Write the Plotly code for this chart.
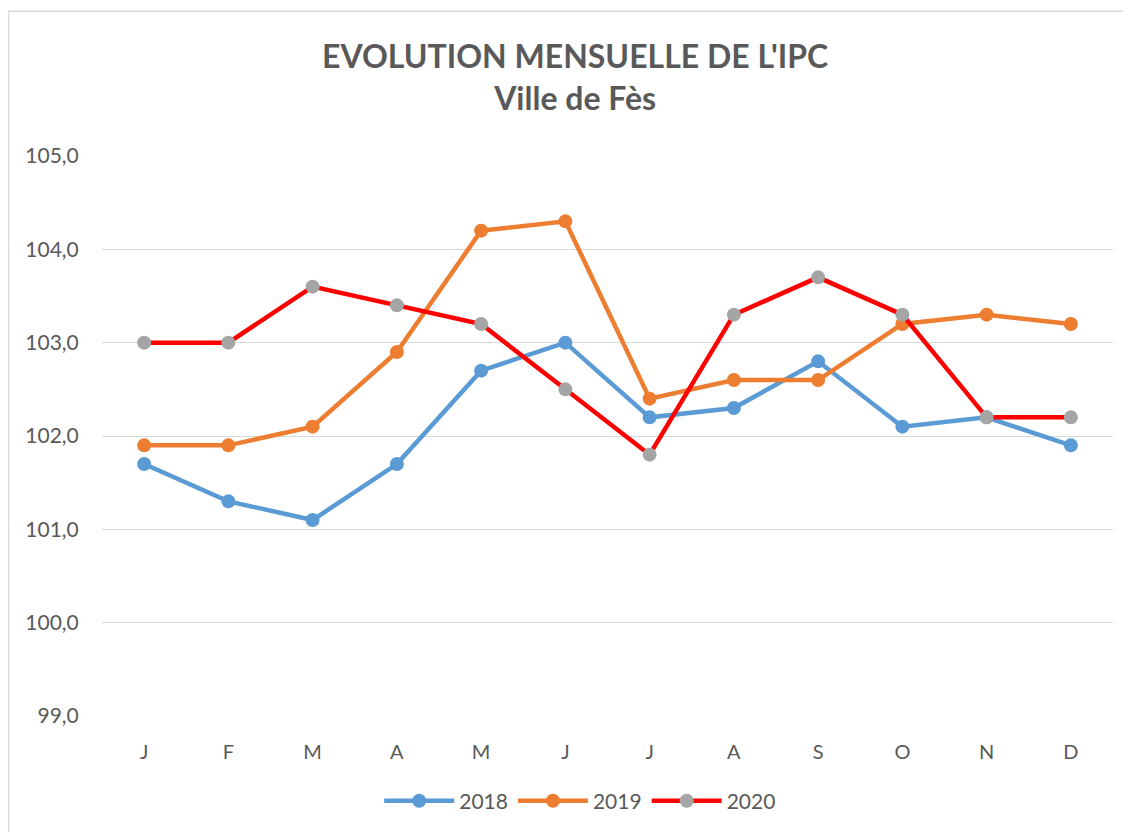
import plotly.graph_objects as go

months = ["J", "F", "M", "A", "M", "J", "J", "A", "S", "O", "N", "D"]
x_idx = list(range(12))
ipc_2018 = [101.7, 101.3, 101.1, 101.7, 102.7, 103.0, 102.2, 102.3, 102.8, 102.1, 102.2, 101.9]
ipc_2019 = [101.9, 101.9, 102.1, 102.9, 104.2, 104.3, 102.4, 102.6, 102.6, 103.2, 103.3, 103.2]
ipc_2020 = [103.0, 103.0, 103.6, 103.4, 103.2, 102.5, 101.8, 103.3, 103.7, 103.3, 102.2, 102.2]
y_ticks = [99, 100, 101, 102, 103, 104, 105]

FONT = "Lato"
TXT = "#595959"

fig = go.Figure()
series = [
    ("2018", ipc_2018, "#5B9BD5", "#5B9BD5"),
    ("2019", ipc_2019, "#ED7D31", "#ED7D31"),
    ("2020", ipc_2020, "#FF0000", "#A5A5A5"),
]
for name, vals, lc, mc in series:
    fig.add_trace(go.Scatter(
        x=x_idx, y=vals, name=name, mode="lines+markers",
        line=dict(color=lc, width=4.5),
        marker=dict(color=mc, size=14),
    ))

fig.update_layout(
    width=1123, height=824,
    margin=dict(l=94, r=18, t=148, b=115),
    paper_bgcolor="white", plot_bgcolor="white",
    separators=", ",
    font=dict(family=FONT, color=TXT, size=20),
    title=dict(
        text="<b>EVOLUTION MENSUELLE DE L'IPC<br>Ville de Fès</b>",
        x=0.505, xanchor="center", y=0.927, yanchor="top",
        font=dict(family=FONT, size=32, color=TXT),
    ),
    showlegend=True,
    legend=dict(orientation="h", x=0.473, xanchor="center", y=-0.15, yanchor="middle",
                font=dict(size=21, color=TXT), itemwidth=70, traceorder="normal"),
    xaxis=dict(
        range=[-0.5, 11.5], tickmode="array", tickvals=x_idx, ticktext=months,
        showgrid=False, zeroline=False, showline=False,
        ticks="outside", ticklen=18, tickcolor="rgba(0,0,0,0)",
        tickfont=dict(size=20, color=TXT),
    ),
    yaxis=dict(
        range=[99, 105], tickmode="array", tickvals=y_ticks, tickformat=".1f",
        showgrid=True, gridcolor="#D9D9D9", gridwidth=1.3, zeroline=False, showline=False,
        ticks="outside", ticklen=18, tickcolor="rgba(0,0,0,0)",
        tickfont=dict(size=21, color=TXT),
    ),
)
fig.add_shape(type="rect", xref="paper", yref="paper",
              x0=-0.0925, x1=1.06, y0=-0.4, y1=1.2585,
              line=dict(color="#D9D9D9", width=1.5), fillcolor="rgba(0,0,0,0)", layer="below")

fig.write_html("out.html")
